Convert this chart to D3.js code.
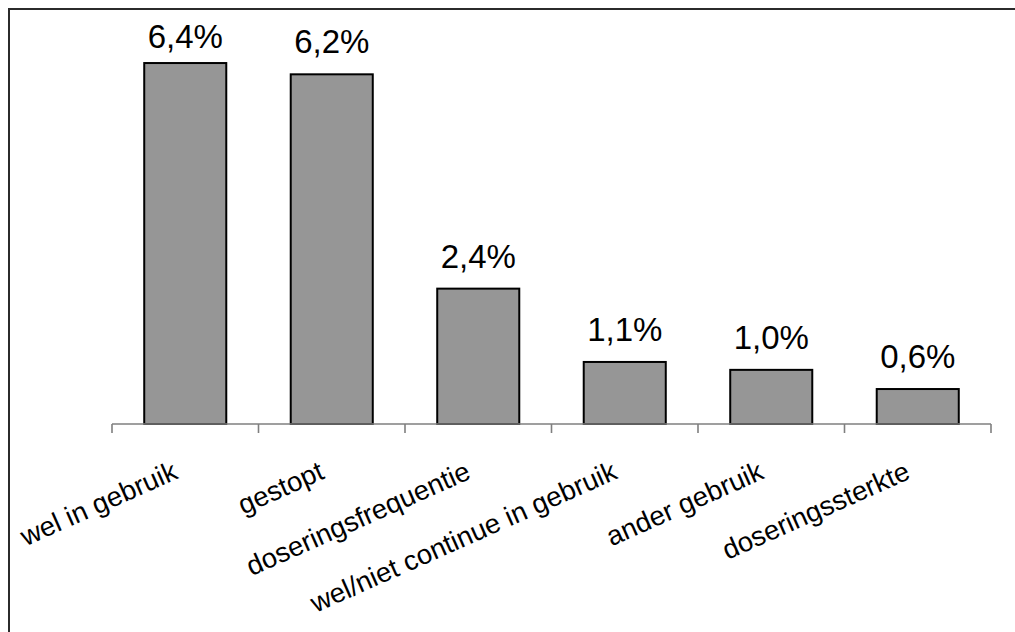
<!DOCTYPE html>
<html>
<head>
<meta charset="utf-8">
<script src="https://cdn.jsdelivr.net/npm/d3@7.9.0/dist/d3.min.js"></script>
<style>
  html, body { margin: 0; padding: 0; background: #fff; }
  svg { display: block; font-family: "Liberation Sans", Arial, sans-serif; }
</style>
</head>
<body>
<svg id="chart" width="1015" height="632"></svg>
<script>
const categories = [
  'wel in gebruik',
  'gestopt',
  'doseringsfrequentie',
  'wel/niet continue in gebruik',
  'ander gebruik',
  'doseringssterkte',
];
const values = [6.4, 6.2, 2.4, 1.1, 0.96, 0.62];
const yDomain = [0, 7];

const width = 1015;
const height = 632;
const plot = { left: 112, right: 991, top: 29.2, bottom: 424 };

const svg = d3.select('#chart');

// frame (only top and left edges show in the picture)
svg.append('path')
  .attr('d', `M9,${height} V9 H${width}`)
  .attr('fill', 'none')
  .attr('stroke', '#2b2b2b')
  .attr('stroke-width', 2);

const x = d3.scaleBand()
  .domain(categories)
  .range([plot.left, plot.right])
  .paddingInner(0.44)
  .paddingOuter(0.22);

const y = d3.scaleLinear().domain(yDomain).range([plot.bottom, plot.top]);

const fmt = (v) => d3.format('.1f')(v).replace('.', ',') + '%';

// bars
svg.append('g')
  .selectAll('rect')
  .data(categories)
  .join('rect')
  .attr('x', (d) => x(d))
  .attr('y', (d, i) => y(values[i]))
  .attr('width', x.bandwidth())
  .attr('height', (d, i) => y(0) - y(values[i]))
  .attr('fill', '#969696')
  .attr('stroke', '#000')
  .attr('stroke-width', 2);

// category axis with ticks between the bars
const boundaries = categories.map((d) => x(d) - x.step() * 0.22).concat([plot.right]);
const axis = svg.append('g').attr('stroke', '#7f7f7f').attr('stroke-width', 1.6);
axis.append('line')
  .attr('x1', plot.left).attr('x2', plot.right)
  .attr('y1', y(0)).attr('y2', y(0));
axis.selectAll('.tick')
  .data(boundaries)
  .join('line')
  .attr('class', 'tick')
  .attr('x1', (d) => d).attr('x2', (d) => d)
  .attr('y1', y(0)).attr('y2', y(0) + 9);

// value labels
svg.append('g')
  .selectAll('text')
  .data(categories)
  .join('text')
  .attr('x', (d) => x(d) + x.bandwidth() / 2)
  .attr('y', (d, i) => Math.max(y(values[i]) - 21, 48))
  .attr('text-anchor', 'middle')
  .attr('font-size', 33)
  .attr('fill', '#000')
  .text((d, i) => fmt(values[i]));

// rotated category labels
svg.append('g')
  .selectAll('text')
  .data(categories)
  .join('text')
  .attr('transform', (d) => `translate(${x(d) + x.bandwidth() / 2 - 6},478) rotate(-24)`)
  .attr('text-anchor', 'end')
  .attr('font-size', 27.5)
  .attr('fill', '#000')
  .text((d) => d);
</script>
</body>
</html>
